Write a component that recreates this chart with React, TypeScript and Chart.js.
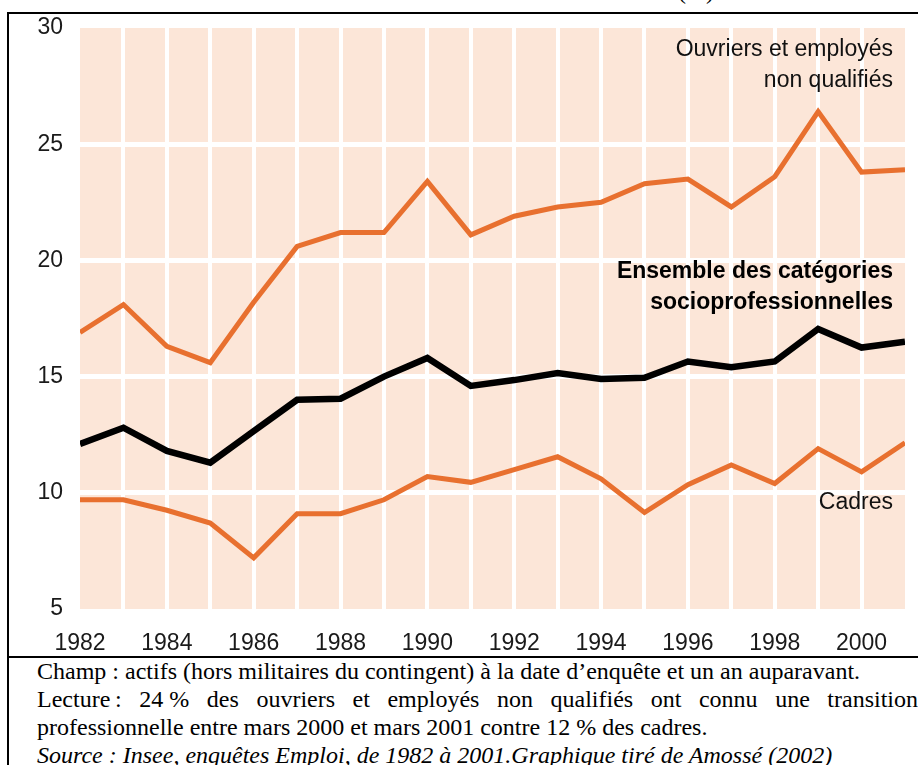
import React, { useEffect, useRef } from "react";
import { Chart, registerables } from "chart.js";

Chart.register(...registerables);

const years = [1982, 1983, 1984, 1985, 1986, 1987, 1988, 1989, 1990, 1991, 1992, 1993, 1994, 1995, 1996, 1997, 1998, 1999, 2000, 2001];
const ouvriers = [16.9, 18.1, 16.3, 15.6, 18.2, 20.6, 21.2, 21.2, 23.4, 21.1, 21.9, 22.3, 22.5, 23.3, 23.5, 22.3, 23.6, 26.4, 23.8, 23.9];
const ensemble = [12.1, 12.8, 11.8, 11.3, 12.65, 14.0, 14.05, 15.0, 15.8, 14.6, 14.85, 15.15, 14.9, 14.95, 15.65, 15.4, 15.65, 17.05, 16.25, 16.5];
const cadres = [9.7, 9.7, 9.25, 8.7, 7.2, 9.1, 9.1, 9.7, 10.7, 10.45, 11.0, 11.55, 10.6, 9.15, 10.35, 11.2, 10.4, 11.9, 10.9, 12.15];
const yTicks = [5, 10, 15, 20, 25, 30];
const xLabelYears = [1982, 1984, 1986, 1988, 1990, 1992, 1994, 1996, 1998, 2000];

const ORANGE = "#E8702F";
const BLACK = "#000000";
const PEACH = "#FCE6D8";
const SANS = "'Liberation Sans', Arial, Helvetica, sans-serif";
const SERIF = "'Liberation Serif', 'Times New Roman', serif";

export default function App() {
  const ref = useRef<HTMLCanvasElement>(null);

  useEffect(() => {
    if (!ref.current) return;
    const bg = {
      id: "bgfill",
      beforeDraw(chart: any) {
        const { ctx, chartArea: a } = chart;
        ctx.save();
        ctx.fillStyle = PEACH;
        ctx.fillRect(a.left, a.top, a.right - a.left, a.bottom - a.top);
        ctx.restore();
      },
    };
    const mk = (arr: number[]) => years.map((x, i) => ({ x, y: arr[i] }));
    const chart = new Chart(ref.current, {
      type: "line",
      data: {
        datasets: [
          { label: "Ouvriers et employés non qualifiés", data: mk(ouvriers), borderColor: ORANGE, borderWidth: 5, pointRadius: 0, tension: 0, borderJoinStyle: "miter", borderCapStyle: "butt" },
          { label: "Cadres", data: mk(cadres), borderColor: ORANGE, borderWidth: 5, pointRadius: 0, tension: 0, borderJoinStyle: "miter", borderCapStyle: "butt" },
          { label: "Ensemble des catégories socioprofessionnelles", data: mk(ensemble), borderColor: BLACK, borderWidth: 6.5, pointRadius: 0, tension: 0, borderJoinStyle: "miter", borderCapStyle: "butt" },
        ],
      },
      plugins: [bg],
      options: {
        responsive: false,
        animation: false,
        devicePixelRatio: 1,
        layout: { padding: { top: 14, right: 13, left: 0, bottom: 0 } },
        plugins: { legend: { display: false }, tooltip: { enabled: false } },
        scales: {
          x: {
            type: "linear",
            min: years[0],
            max: years[years.length - 1],
            afterFit: (s: any) => { s.height = 48; s.paddingLeft = 0; s.paddingRight = 0; },
            afterBuildTicks: (s: any) => { s.ticks = years.map((v) => ({ value: v })); },
            border: { display: false },
            grid: {
              drawTicks: false,
              lineWidth: 4,
              color: (c: any) => (c.tick && (c.tick.value === years[0] || c.tick.value === years[years.length - 1]) ? "rgba(0,0,0,0)" : "#ffffff"),
            },
            ticks: {
              autoSkip: false,
              maxRotation: 0,
              padding: 21,
              color: "#1a1a1a",
              font: { family: SANS, size: 23 },
              callback: (v: any) => (xLabelYears.includes(Number(v)) ? String(v) : ""),
            },
          },
          y: {
            min: yTicks[0],
            max: yTicks[yTicks.length - 1],
            afterFit: (s: any) => { s.width = 70; s.paddingTop = 0; s.paddingBottom = 0; },
            afterBuildTicks: (s: any) => { s.ticks = yTicks.map((v) => ({ value: v })); },
            border: { display: false },
            grid: {
              drawTicks: false,
              lineWidth: 5,
              color: (c: any) => (c.tick && (c.tick.value === yTicks[0] || c.tick.value === yTicks[yTicks.length - 1]) ? "rgba(0,0,0,0)" : "#ffffff"),
            },
            ticks: {
              padding: 17,
              color: "#1a1a1a",
              font: { family: SANS, size: 23 },
              callback: (v: any) => String(v),
            },
          },
        },
      },
    } as any);
    return () => chart.destroy();
  }, []);

  const labelStyle: React.CSSProperties = {
    position: "absolute",
    right: 25,
    fontFamily: SANS,
    fontSize: 23,
    lineHeight: "31px",
    textAlign: "right",
    color: "#111",
    whiteSpace: "nowrap",
  };

  return (
    <div style={{ position: "absolute", left: 0, top: 0, width: 918, height: 765, overflow: "hidden", background: "#fff" }}>
      <div style={{ position: "absolute", left: 678, top: -22, fontFamily: SERIF, fontSize: 24, lineHeight: "26px", color: "#000" }}>(%)</div>
      <div style={{ position: "absolute", left: 7, top: 12, width: 920, height: 2, background: "#000" }} />
      <div style={{ position: "absolute", left: 7, top: 12, width: 2, height: 760, background: "#000" }} />
      <div style={{ position: "absolute", left: 7, top: 656, width: 920, height: 2, background: "#000" }} />
      <canvas ref={ref} width={908} height={643} style={{ position: "absolute", left: 10, top: 14, width: 908, height: 643 }} />
      <div style={{ ...labelStyle, top: 33 }}>Ouvriers et employés<br />non qualifiés</div>
      <div style={{ ...labelStyle, top: 255, fontWeight: "bold", color: "#000" }}>Ensemble des catégories<br />socioprofessionnelles</div>
      <div style={{ ...labelStyle, top: 486 }}>Cadres</div>
      <div style={{ position: "absolute", left: 37, top: 657, width: 881, fontFamily: SERIF, fontSize: 24, lineHeight: "28px", color: "#000", whiteSpace: "nowrap" }}>
        <div>Champ : actifs (hors militaires du contingent) à la date d’enquête et un an auparavant.</div>
        <div style={{ textAlign: "justify", textAlignLast: "justify", whiteSpace: "normal" }}>
          <span style={{ display: "inline-block" }}>Lecture{"\u202F"}:</span> <span style={{ display: "inline-block" }}>24 %</span> des ouvriers et employés non qualifiés ont connu une transition
        </div>
        <div>professionnelle entre mars 2000 et mars 2001 contre 12&nbsp;% des cadres.</div>
        <div style={{ fontStyle: "italic" }}>Source : Insee, enquêtes Emploi, de 1982 à 2001.Graphique tiré de Amossé (2002)</div>
      </div>
    </div>
  );
}
